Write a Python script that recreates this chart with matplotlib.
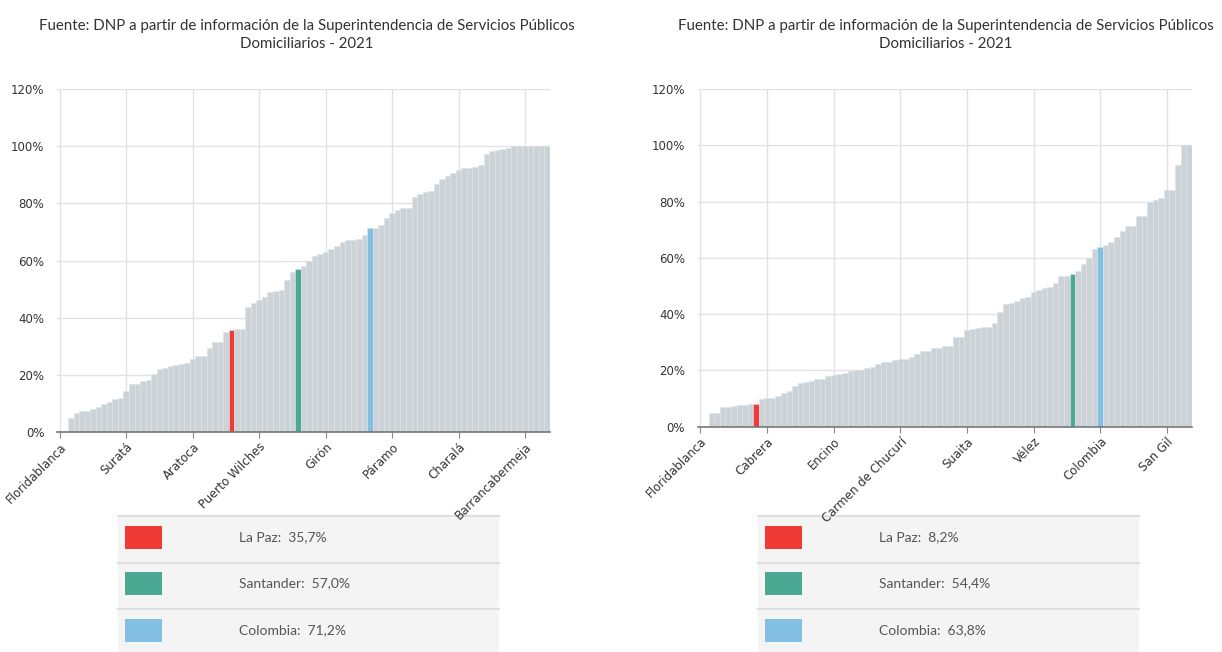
import matplotlib
matplotlib.use('Agg')
import matplotlib.pyplot as plt
from matplotlib.patches import Rectangle

# sorted share (%) per municipality, left panel
left_values = [
    0, 0, 4.8, 6.8, 7.5, 7.5, 8.0, 8.9, 9.7, 10.6,
    11.5, 12.0, 14.2, 16.8, 16.8, 17.7, 18.3, 20.4, 22.1, 22.5,
    23.0, 23.3, 23.7, 24.2, 25.6, 26.5, 26.5, 29.3, 31.6, 31.6,
    35.1, 35.7, 36.0, 36.0, 43.8, 45.1, 46.2, 47.4, 49.0, 49.5,
    49.8, 53.1, 55.9, 57.0, 58.2, 60.0, 61.7, 62.3, 62.9, 64.1,
    65.0, 66.4, 67.0, 67.0, 67.4, 69.0, 71.2, 71.2, 72.3, 74.9,
    76.6, 77.6, 78.4, 78.4, 82.2, 83.1, 84.0, 84.3, 86.6, 88.5,
    89.7, 90.7, 91.7, 92.3, 92.5, 92.8, 93.4, 97.2, 98.3, 98.7,
    98.9, 99.3, 99.9, 100, 100, 100, 100, 100, 100,
]
left_tick_labels = ['Floridablanca', 'Suratá', 'Aratoca', 'Puerto Wilches',
                    'Girón', 'Páramo', 'Charalá', 'Barrancabermeja']
left_highlight_idx = [31, 43, 56]
left_legend_names = ['La Paz', 'Santander', 'Colombia']
left_legend_values = ['35,7%', '57,0%', '71,2%']

# right panel
right_values = [
    0, 0, 5.0, 5.0, 6.9, 6.9, 7.4, 7.7, 7.7, 8.0,
    8.2, 9.7, 10.1, 10.1, 10.9, 11.9, 12.8, 14.5, 15.7, 16.0,
    16.4, 16.9, 16.9, 18.0, 18.4, 18.8, 19.2, 19.8, 20.0, 20.2,
    20.7, 21.2, 22.2, 22.9, 22.9, 23.7, 24.2, 24.2, 24.7, 25.9,
    27.0, 27.0, 27.9, 27.9, 28.5, 28.7, 31.7, 31.7, 34.4, 34.6,
    35.0, 35.6, 35.6, 37.0, 40.6, 43.7, 44.1, 44.7, 45.7, 46.0,
    47.7, 48.6, 49.2, 49.8, 51.0, 53.4, 53.4, 54.4, 55.4, 57.8,
    59.9, 63.1, 63.8, 64.7, 65.5, 67.4, 69.6, 71.4, 71.4, 74.7,
    75.0, 79.7, 80.4, 81.3, 84.2, 84.2, 93.0, 100, 100,
]
right_tick_labels = ['Floridablanca', 'Cabrera', 'Encino', 'Carmen de Chucurí',
                     'Suaita', 'Vélez', 'Colombia', 'San Gil']
right_highlight_idx = [10, 67, 72]
right_legend_names = ['La Paz', 'Santander', 'Colombia']
right_legend_values = ['8,2%', '54,4%', '63,8%']

TICK_STEP = 12
HL_COLORS = ['#ef3a35', '#4aa893', '#82bfe0']
BAR_COLOR = '#ccd2d6'
TITLE = ('Fuente: DNP a partir de información de la Superintendencia de Servicios Públicos\n'
         'Domiciliarios - 2021')
TEXT_FONT = ['Lato', 'DejaVu Sans']

W, H = 1222, 652
fig = plt.figure(figsize=(W / 100, H / 100), dpi=100)


def draw_panel(rect, values, tick_labels, hl_idx):
    ax = fig.add_axes(rect)
    x = list(range(len(values)))
    colors = [BAR_COLOR] * len(values)
    for i, c in zip(hl_idx, HL_COLORS):
        colors[i] = c
    ax.bar(x, values, width=1.0, color=colors, edgecolor='#d8e5ee', linewidth=0.4, zorder=2)
    ax.set_xlim(-0.5, len(values) - 0.5)
    ax.set_ylim(0, 120)
    ax.set_yticks(range(0, 121, 20))
    ax.set_yticklabels([f'{v}%' for v in range(0, 121, 20)])
    ticks = list(range(0, len(values), TICK_STEP))
    ax.set_xticks(ticks)
    ax.set_xticklabels(tick_labels, rotation=45, ha='right', rotation_mode='anchor')
    ax.grid(True, color='#e2e2e2', linewidth=1, zorder=0)
    ax.set_axisbelow(True)
    for s in ['top', 'right', 'left']:
        ax.spines[s].set_visible(False)
    ax.spines['bottom'].set_color('#777777')
    ax.spines['bottom'].set_linewidth(1.2)
    ax.spines['bottom'].set_zorder(3)
    ax.tick_params(axis='y', length=0, pad=9, labelsize=8.5, labelcolor='#333333')
    ax.tick_params(axis='x', length=4, color='#888888', pad=2, labelsize=8.5,
                   labelcolor='#333333')
    return ax


draw_panel([57 / W, 1 - 432 / H, 493 / W, 343 / H], left_values, left_tick_labels,
           left_highlight_idx)
draw_panel([697.7 / W, 1 - 426.7 / H, 494 / W, 337.7 / H], right_values, right_tick_labels,
           right_highlight_idx)

# overlay in pixel coordinates for titles and the legend tables
ov = fig.add_axes([0, 0, 1, 1], zorder=-1)
ov.set_xlim(0, W)
ov.set_ylim(H, 0)
ov.axis('off')

for cx in [307, 946]:
    ov.text(cx, 35, TITLE, ha='center', va='center', fontsize=10.8, color='#333333',
            family=TEXT_FONT, linespacing=1.45)


def draw_table(x0, names, vals):
    row_h = 46.5
    top = 516
    ov.add_patch(Rectangle((x0, top), 381, row_h * 3, facecolor='#f4f4f4',
                           edgecolor='none', zorder=1))
    for k in range(4):
        y = top + row_h * k
        ov.plot([x0, x0 + 381], [y, y], color='#dedede', lw=1.5, zorder=2)
    for k, (n, v, c) in enumerate(zip(names, vals, HL_COLORS)):
        yc = top + row_h * k + 21
        ov.add_patch(Rectangle((x0 + 7, yc - 11.5), 37, 23, facecolor=c, edgecolor='none',
                               zorder=3))
        ov.text(x0 + 121, yc, f'{n}:  {v}', ha='left', va='center', fontsize=10,
                color='#555555', family=TEXT_FONT, zorder=3)


draw_table(118, left_legend_names, left_legend_values)
draw_table(758, right_legend_names, right_legend_values)

fig.savefig('out.png', dpi=100)
